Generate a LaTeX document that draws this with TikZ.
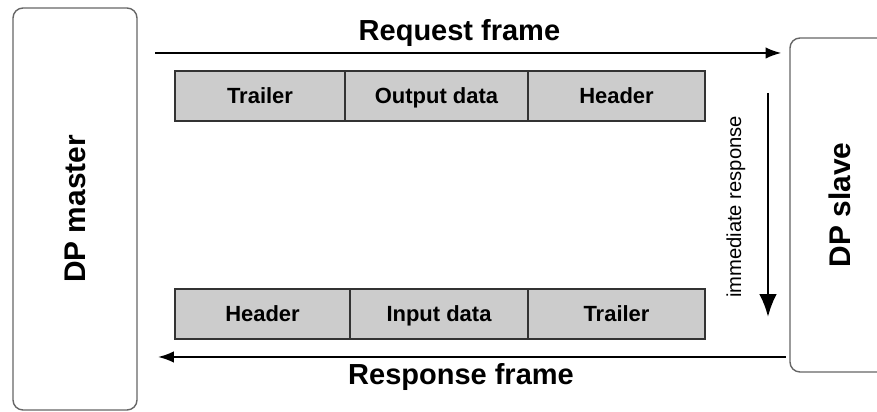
\documentclass[tikz,border=0pt]{standalone}
\usepackage{fontspec}
\setmainfont{Liberation Sans}
\usetikzlibrary{arrows.meta}
\begin{document}
\begin{tikzpicture}[very thick,
    station/.style={draw=black!60, thick, rounded corners=0.2cm, inner sep=0pt, font=\fontsize{17}{20}\bfseries},
    cell/.style={draw=black!80, thick, fill=black!20, minimum height=1cm, inner sep=0pt, text height=1.9ex, text depth=0.3ex, font=\fontsize{12.5}{14}\bfseries},
    frame/.style={-{Latex[length=9pt,width=6.5pt]}, line width=1.1pt},
    lbl/.style={font=\fontsize{16.5}{19}\bfseries}]
    \clip (0,0) rectangle (17.54,8.24);
    %nodes
    \node[station, minimum width=2.48cm, minimum height=8.04cm] at (1.5,4.06) (master) {\rotatebox{90}{DP master}};
    \node[station, minimum width=2.0cm, minimum height=6.68cm] at (16.8,4.14) (slave) {\rotatebox{90}{DP slave}};
    % request frame
    \node[cell, minimum width=3.4cm] at (5.2,6.32) (trl1) {Trailer};
    \node[cell, minimum width=3.66cm] at (8.73,6.32) (out) {Output data};
    \node[cell, minimum width=3.54cm] at (12.33,6.32) (hdr1) {Header};
    % response frame
    \node[cell, minimum width=3.5cm] at (5.25,1.96) (hdr2) {Header};
    \node[cell, minimum width=3.56cm] at (8.78,1.96) (in) {Input data};
    \node[cell, minimum width=3.54cm] at (12.33,1.96) (trl2) {Trailer};
    \coordinate (reqstart) at (3.1,7.18);
    \coordinate (respend) at (3.16,1.1);
    \coordinate (immtop) at (15.36,6.38);
    \coordinate (immbot) at (15.36,1.9);
    \draw[frame, shorten >=4.5pt] (reqstart) -- (reqstart -| slave.west) node[lbl, above, pos=0.48] {Request frame};
    \draw[frame, shorten <=2pt] (respend -| slave.west) -- (respend) node[lbl, below, pos=0.52] {Response frame};
    \draw[-{Latex[length=13pt,width=10pt]}, line width=1.4pt] (immtop) -- (immbot);
    \node[rotate=90, font=\fontsize{11.5}{14}\selectfont] at (14.72,4.1) (imm) {immediate response};
\end{tikzpicture}
\end{document}
